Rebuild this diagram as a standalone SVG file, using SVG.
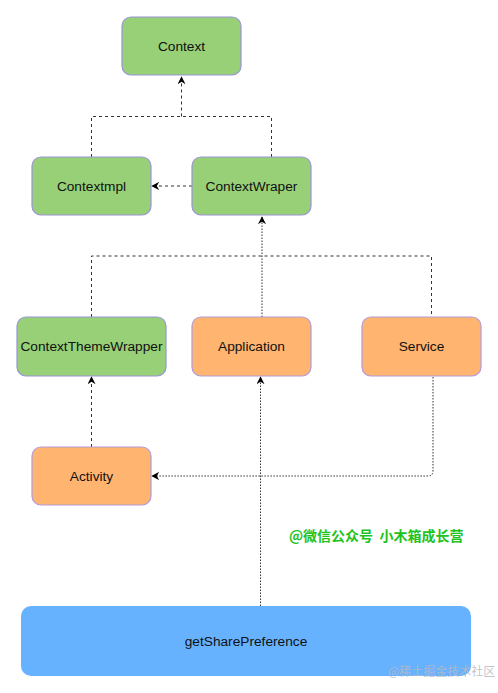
<svg xmlns="http://www.w3.org/2000/svg" width="498" height="693" viewBox="0 0 498 693">
<style>
.g{fill:#97d077;stroke:#9a94d8;stroke-width:1.2}
.o{fill:#ffb570;stroke:#b49ad8;stroke-width:1.2}
.b{fill:#66b2ff;stroke:none}
.t{font-family:"Liberation Sans",Arial,sans-serif;font-size:13.7px;fill:#111;text-anchor:middle;dominant-baseline:central}
.c{fill:none;stroke:#333;stroke-width:1;stroke-dasharray:3 3}
.d{fill:none;stroke:#333;stroke-width:1;stroke-dasharray:1.5 1.5}
.w{font-family:"Noto Sans CJK SC","Liberation Sans",sans-serif;font-size:14px;font-weight:bold;fill:#1ec31e}
</style>
<defs>
<marker id="a" viewBox="0 0 10 10" refX="9" refY="5" markerWidth="8" markerHeight="8" orient="auto" markerUnits="userSpaceOnUse">
<path d="M0,0 L10,5 L0,10 L3,5 Z" fill="#000"/>
</marker>
</defs>
<rect width="498" height="693" fill="#fff"/>
<g id="connectors">
<path class="c" d="M91.5,157 V116.5 H271.5 V157"/>
<path class="c" d="M181.5,116.5 V77" marker-end="url(#a)"/>
<path class="c" d="M192,186 H152" marker-end="url(#a)"/>
<path class="c" d="M91.5,317 V256 H431.5 V317"/>
<path class="d" d="M262,317 V217" marker-end="url(#a)"/>
<path class="c" d="M91.5,447 V377" marker-end="url(#a)"/>
<path class="d" d="M260.5,606 V377" marker-end="url(#a)"/>
<path class="d" d="M433,377 V471 Q433,476 428,476 H152" marker-end="url(#a)"/>
</g>
<g id="context"><rect class="g" x="122" y="17" width="119" height="58" rx="9"/><text class="t" x="181.5" y="46">Context</text></g>
<g id="contextimpl"><rect class="g" x="32" y="157" width="119" height="58" rx="9"/><text class="t" x="91.5" y="186">Contextmpl</text></g>
<g id="contextwraper"><rect class="g" x="192" y="157" width="119" height="58" rx="9"/><text class="t" x="251.5" y="186">ContextWraper</text></g>
<g id="contextthemewrapper"><rect class="g" x="17" y="317" width="149" height="59" rx="9"/><text class="t" x="91.5" y="346.5">ContextThemeWrapper</text></g>
<g id="application"><rect class="o" x="192" y="317" width="119" height="59" rx="9"/><text class="t" x="251.5" y="346.5">Application</text></g>
<g id="service"><rect class="o" x="362" y="317" width="119" height="59" rx="9"/><text class="t" x="421.5" y="346.5">Service</text></g>
<g id="activity"><rect class="o" x="32" y="447" width="119" height="58" rx="9"/><text class="t" x="91.5" y="476">Activity</text></g>
<g id="getsharepreference"><rect class="b" x="21" y="606" width="450" height="70" rx="10"/><text class="t" x="246" y="641">getSharePreference</text></g>
<text class="w" x="289" y="541" xml:space="preserve">@微信公众号  小木箱成长营</text>
<text x="388" y="676" font-family="'Noto Sans CJK SC','Liberation Sans',sans-serif" font-size="12" fill="#b8b8c0" fill-opacity="0.85">@稀土掘金技术社区</text>
</svg>
